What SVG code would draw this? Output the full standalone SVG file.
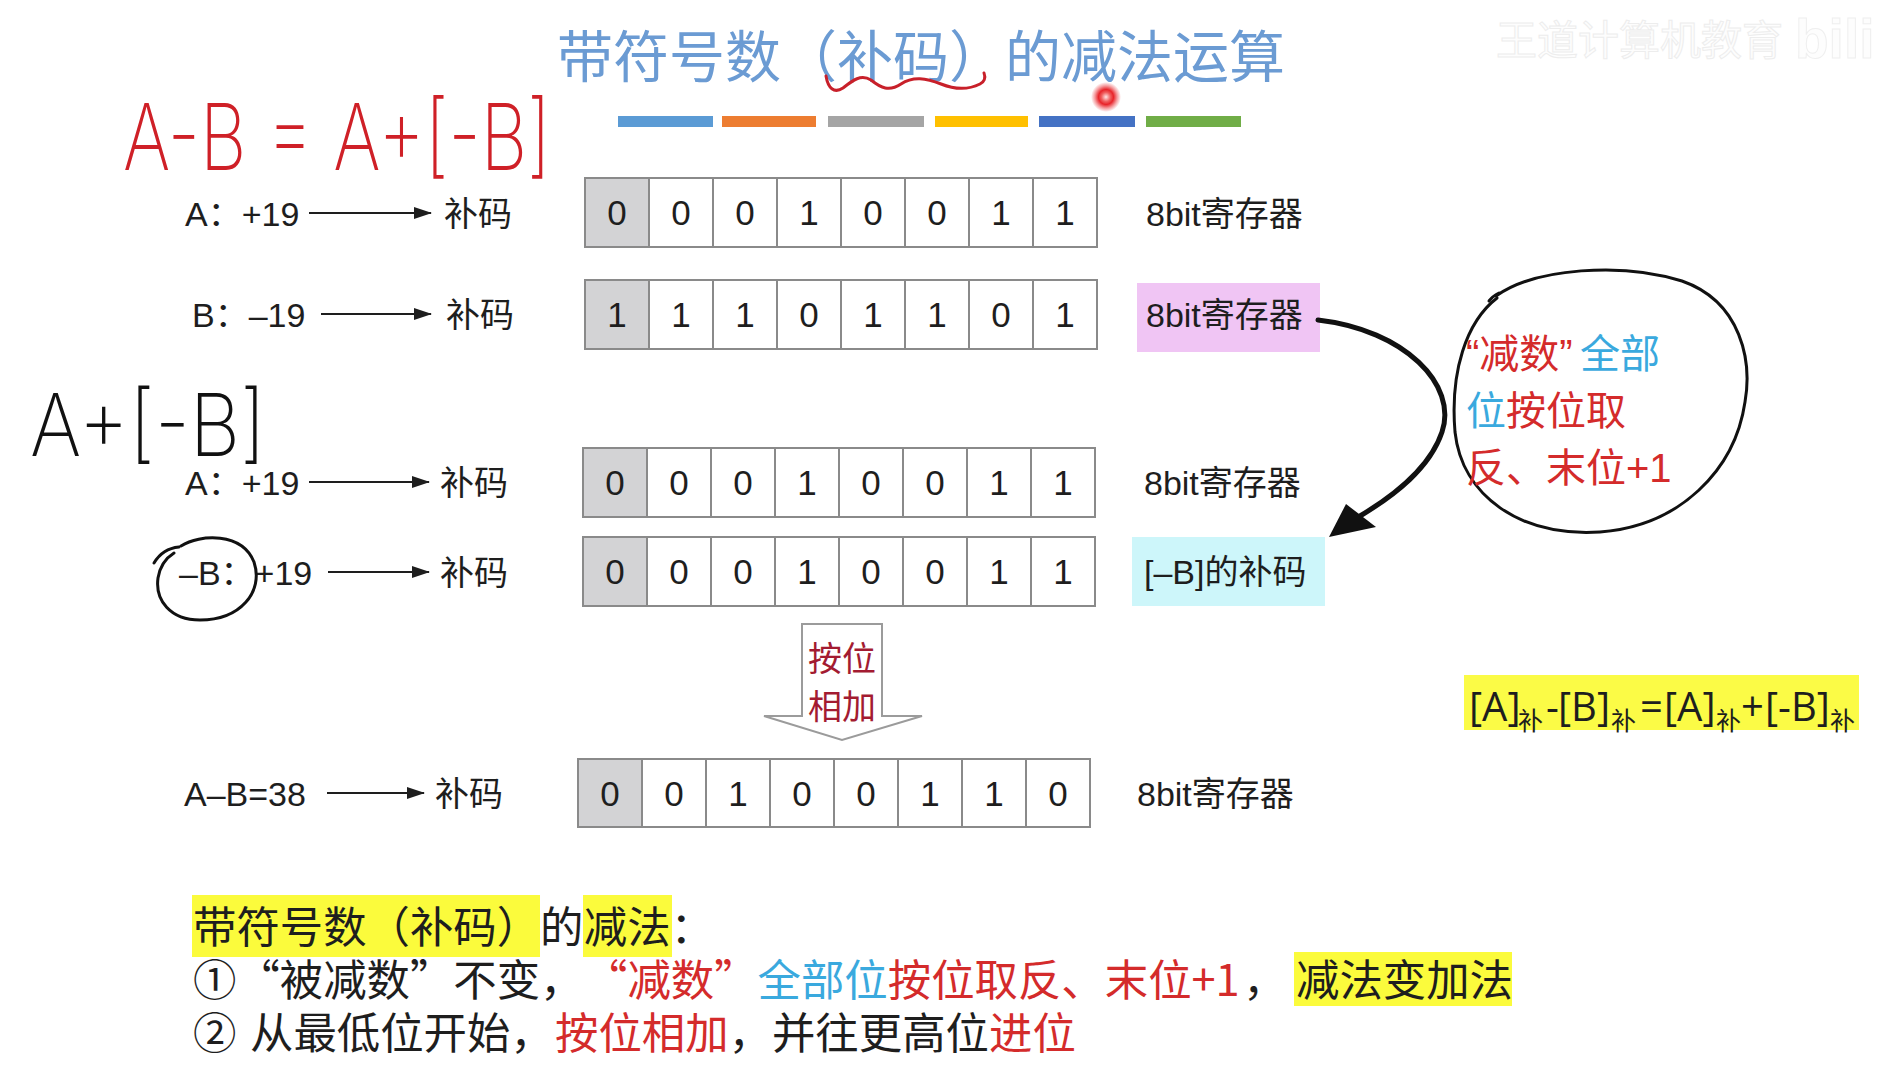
<svg xmlns="http://www.w3.org/2000/svg" width="1877" height="1076" viewBox="0 0 1877 1076">
<defs>
<style>
.t{font-family:"Liberation Sans","Noto Sans CJK SC",sans-serif}
.c{font-family:"Noto Sans CJK SC","Liberation Sans",sans-serif}
.k{fill:#1e1e1e}
.lbl{font-size:34px;fill:#1e1e1e}
.dig{font-family:"Liberation Sans",sans-serif;font-size:35px;text-anchor:middle;fill:#1e1e1e}
.cell{fill:#fff;stroke:#8a8a8a;stroke-width:2}
.sign{fill:#d3d3d5;stroke:#8a8a8a;stroke-width:2}
.arr{stroke:#1e1e1e;stroke-width:2;fill:none;marker-end:url(#ah)}
.red{fill:#d42b2b}
.blue{fill:#3aa9de}
.hl{fill:#fbfb3c}
.hand{fill:none;stroke-linecap:round;stroke-linejoin:round}
.bt{font-size:43.4px;fill:#1e1e1e}
.hw{font-family:Inter,"DejaVu Sans",sans-serif;font-weight:160}
.add{font-size:34px;fill:#a31b31;text-anchor:middle}
</style>
<marker id="ah" viewBox="0 0 18 12" markerWidth="18" markerHeight="12" refX="17" refY="6" orient="auto" markerUnits="userSpaceOnUse"><path d="M0,0 L18,6 L0,12 z" fill="#1e1e1e"/></marker>
<radialGradient id="dot" cx="0.5" cy="0.5" r="0.5">
<stop offset="0" stop-color="#ffe6e6"/>
<stop offset="0.3" stop-color="#f06060"/>
<stop offset="0.5" stop-color="#e8242a"/>
<stop offset="0.75" stop-color="#e8242a" stop-opacity="0.45"/>
<stop offset="1" stop-color="#e8242a" stop-opacity="0"/>
</radialGradient>
</defs>
<rect width="1877" height="1076" fill="#ffffff"/>

<!-- watermark -->
<g id="watermark">
<text class="c" x="1496" y="55" font-size="41" style="fill:#fdfdfd;stroke:#ededed;stroke-width:1">王道计算机教育</text>
<text class="t" x="1795" y="58" font-size="55" font-weight="bold" style="fill:#fdfdfd;stroke:#efefef;stroke-width:1">bili</text>
</g>

<!-- title -->
<g id="title">
<text class="c" x="557" y="77" font-size="56" style="fill:#6b9bd3">带符号数（补码）的减法运算</text>
<path class="hand" d="M826,76 C828,88 834,94 843,88 C853,80 861,74 871,80 C881,88 889,92 901,84 C913,76 926,78 941,84 C956,90 970,89 980,84 C984,82 986,78 984,73" stroke="#c8202a" stroke-width="3"/>
<circle cx="1106" cy="97" r="15" fill="url(#dot)"/>
</g>

<!-- color bars -->
<g id="bars">
<rect x="618" y="116" width="95" height="11" fill="#5b9bd5"/>
<rect x="722" y="116" width="94" height="11" fill="#ed7d31"/>
<rect x="828" y="116" width="96" height="11" fill="#a5a5a5"/>
<rect x="935" y="116" width="93" height="11" fill="#ffc000"/>
<rect x="1039" y="116" width="96" height="11" fill="#4472c4"/>
<rect x="1146" y="116" width="95" height="11" fill="#70ad47"/>
</g>

<!-- handwriting -->
<g id="hand-red">
<text class="hw" x="123" y="170" font-size="92" textLength="428" lengthAdjust="spacingAndGlyphs" style="fill:#cf2027">A-B = A+[-B]</text>
</g>
<g id="hand-black">
<text class="hw" x="30" y="456" font-size="86" textLength="236" lengthAdjust="spacingAndGlyphs" style="fill:#111">A+[-B]</text>
</g>

<!-- left labels -->
<g id="labelA1"><text class="t lbl" x="185" y="226">A：+19</text><text class="t lbl" x="444" y="226">补码</text></g>
<g id="labelB"><text class="t lbl" x="192" y="327">B：–19</text><text class="t lbl" x="446" y="327">补码</text></g>
<g id="labelA2"><text class="t lbl" x="185" y="495">A：+19</text><text class="t lbl" x="440" y="495">补码</text></g>
<g id="labelNegB"><text class="t lbl" x="179" y="585">–B：+19</text><text class="t lbl" x="440" y="585">补码</text>
<path class="hand" d="M154,563 C160,553 168,548 179,547" stroke="#111" stroke-width="3"/>
<path class="hand" d="M181,546 C200,534 242,532 254,562 C264,592 240,620 200,620 C170,620 155,600 158,578 C160,566 166,558 174,553" stroke="#111" stroke-width="3"/>
</g>
<g id="labelAB"><text class="t lbl" x="184" y="806">A–B=38</text><text class="t lbl" x="435" y="806">补码</text></g>

<!-- registers -->
<g id="regA1" transform="translate(585,178)">
<rect class="sign" x="0" y="0" width="64" height="69"/><rect class="cell" x="64" y="0" width="64" height="69"/><rect class="cell" x="128" y="0" width="64" height="69"/><rect class="cell" x="192" y="0" width="64" height="69"/><rect class="cell" x="256" y="0" width="64" height="69"/><rect class="cell" x="320" y="0" width="64" height="69"/><rect class="cell" x="384" y="0" width="64" height="69"/><rect class="cell" x="448" y="0" width="64" height="69"/>
<text class="dig" y="47"><tspan x="32">0</tspan><tspan x="96">0</tspan><tspan x="160">0</tspan><tspan x="224">1</tspan><tspan x="288">0</tspan><tspan x="352">0</tspan><tspan x="416">1</tspan><tspan x="480">1</tspan></text>
</g>
<g id="regB" transform="translate(585,280)">
<rect class="sign" x="0" y="0" width="64" height="69"/><rect class="cell" x="64" y="0" width="64" height="69"/><rect class="cell" x="128" y="0" width="64" height="69"/><rect class="cell" x="192" y="0" width="64" height="69"/><rect class="cell" x="256" y="0" width="64" height="69"/><rect class="cell" x="320" y="0" width="64" height="69"/><rect class="cell" x="384" y="0" width="64" height="69"/><rect class="cell" x="448" y="0" width="64" height="69"/>
<text class="dig" y="47"><tspan x="32">1</tspan><tspan x="96">1</tspan><tspan x="160">1</tspan><tspan x="224">0</tspan><tspan x="288">1</tspan><tspan x="352">1</tspan><tspan x="416">0</tspan><tspan x="480">1</tspan></text>
</g>
<g id="regA2" transform="translate(583,448)">
<rect class="sign" x="0" y="0" width="64" height="69"/><rect class="cell" x="64" y="0" width="64" height="69"/><rect class="cell" x="128" y="0" width="64" height="69"/><rect class="cell" x="192" y="0" width="64" height="69"/><rect class="cell" x="256" y="0" width="64" height="69"/><rect class="cell" x="320" y="0" width="64" height="69"/><rect class="cell" x="384" y="0" width="64" height="69"/><rect class="cell" x="448" y="0" width="64" height="69"/>
<text class="dig" y="47"><tspan x="32">0</tspan><tspan x="96">0</tspan><tspan x="160">0</tspan><tspan x="224">1</tspan><tspan x="288">0</tspan><tspan x="352">0</tspan><tspan x="416">1</tspan><tspan x="480">1</tspan></text>
</g>
<g id="regNegB" transform="translate(583,537)">
<rect class="sign" x="0" y="0" width="64" height="69"/><rect class="cell" x="64" y="0" width="64" height="69"/><rect class="cell" x="128" y="0" width="64" height="69"/><rect class="cell" x="192" y="0" width="64" height="69"/><rect class="cell" x="256" y="0" width="64" height="69"/><rect class="cell" x="320" y="0" width="64" height="69"/><rect class="cell" x="384" y="0" width="64" height="69"/><rect class="cell" x="448" y="0" width="64" height="69"/>
<text class="dig" y="47"><tspan x="32">0</tspan><tspan x="96">0</tspan><tspan x="160">0</tspan><tspan x="224">1</tspan><tspan x="288">0</tspan><tspan x="352">0</tspan><tspan x="416">1</tspan><tspan x="480">1</tspan></text>
</g>
<g id="regAB" transform="translate(578,759)">
<rect class="sign" x="0" y="0" width="64" height="68"/><rect class="cell" x="64" y="0" width="64" height="68"/><rect class="cell" x="128" y="0" width="64" height="68"/><rect class="cell" x="192" y="0" width="64" height="68"/><rect class="cell" x="256" y="0" width="64" height="68"/><rect class="cell" x="320" y="0" width="64" height="68"/><rect class="cell" x="384" y="0" width="64" height="68"/><rect class="cell" x="448" y="0" width="64" height="68"/>
<text class="dig" y="47"><tspan x="32">0</tspan><tspan x="96">0</tspan><tspan x="160">1</tspan><tspan x="224">0</tspan><tspan x="288">0</tspan><tspan x="352">1</tspan><tspan x="416">1</tspan><tspan x="480">0</tspan></text>
</g>

<!-- register labels -->
<g id="tagA1"><text class="t lbl" x="1146" y="226">8bit寄存器</text></g>
<g id="tagB"><rect x="1137" y="283" width="183" height="69" fill="#f0c5f4"/><text class="t lbl" x="1146" y="327">8bit寄存器</text></g>
<g id="tagA2"><text class="t lbl" x="1144" y="495">8bit寄存器</text></g>
<g id="tagNegB"><rect x="1132" y="537" width="193" height="69" fill="#cdf6fa"/><text class="t lbl" x="1144" y="584">[–B]的补码</text></g>
<g id="tagAB"><text class="t lbl" x="1137" y="806">8bit寄存器</text></g>

<!-- note circle -->
<g id="note">
<path class="hand" d="M1489,301 C1492,297 1495,295 1499,293" stroke="#111" stroke-width="3"/>
<path class="hand" d="M1496,296 C1535,268 1622,262 1682,281 C1742,302 1752,362 1745,402 C1735,470 1680,526 1600,532 C1520,537 1462,496 1455,432 C1450,372 1466,322 1497,298" stroke="#111" stroke-width="3"/>
<text class="t" font-size="40" y="368"><tspan x="1466" class="red">“减数”</tspan><tspan x="1580" class="blue">全部</tspan></text>
<text class="t" font-size="40" y="425"><tspan x="1466" class="blue">位</tspan><tspan class="red">按位取</tspan></text>
<text class="t red" font-size="40" y="482" x="1466">反、末位+1</text>
</g>

<!-- formula -->
<g id="formula">
<rect x="1464" y="675" width="395" height="55" fill="#fbfb46"/>
<text font-family="'Open Sans','Liberation Sans',sans-serif" font-size="40" fill="#1e1e1e" y="721"><tspan x="1469">[A]</tspan><tspan x="1546">-</tspan><tspan x="1558">[B]</tspan><tspan x="1640">=</tspan><tspan x="1664">[A]</tspan><tspan x="1741">+</tspan><tspan x="1765">[-B]</tspan></text>
<text class="c" font-size="25" fill="#1e1e1e" y="730"><tspan x="1518">补</tspan><tspan x="1611">补</tspan><tspan x="1716">补</tspan><tspan x="1830">补</tspan></text>
</g>

<!-- connectors -->
<g id="connectors">
<line class="arr" x1="309" y1="213" x2="431" y2="213"/>
<line class="arr" x1="321" y1="314" x2="431" y2="314"/>
<line class="arr" x1="309" y1="482" x2="429" y2="482"/>
<line class="arr" x1="328" y1="572" x2="429" y2="572"/>
<line class="arr" x1="327" y1="793" x2="424" y2="793"/>
<path d="M1318,320 C1405,330 1458,385 1442,432 C1430,468 1395,495 1360,516" fill="none" stroke="#111" stroke-width="5" stroke-linecap="round"/>
<polygon points="1329,537 1346,504 1376,527" fill="#111"/>
<g id="addArrow">
<path d="M802,624 H882 V716 H922 L842,740 L764,716 H802 Z" fill="#fff" stroke="#9b9b9b" stroke-width="2"/>
<text class="c add" x="842" y="671">按位</text>
<text class="c add" x="842" y="719">相加</text>
</g>
</g>

<!-- bottom summary -->
<g id="summary">
<rect class="hl" x="192" y="895" width="348" height="62"/>
<rect class="hl" x="583" y="895" width="89" height="62"/>
<rect class="hl" x="1294" y="952" width="218" height="54"/>
<text class="c bt" y="943"><tspan x="193">带符号数（补码）</tspan><tspan x="540">的</tspan><tspan x="583.8">减法</tspan><tspan x="670.6">：</tspan></text>
<text class="c bt" y="996"><tspan x="193">①“被减数”不变，</tspan><tspan x="584" class="red">“减数”</tspan><tspan x="757.6" class="blue">全部位</tspan><tspan x="887.8" class="red">按位取反、末位+1</tspan><tspan x="1243">，</tspan><tspan x="1296">减法变加法</tspan></text>
<text class="c bt" y="1049"><tspan x="193">②</tspan><tspan x="250">从最低位开始，</tspan><tspan x="555" class="red">按位相加</tspan><tspan x="728.6">，并往更高位</tspan><tspan x="989" class="red">进位</tspan></text>
</g>
</svg>
